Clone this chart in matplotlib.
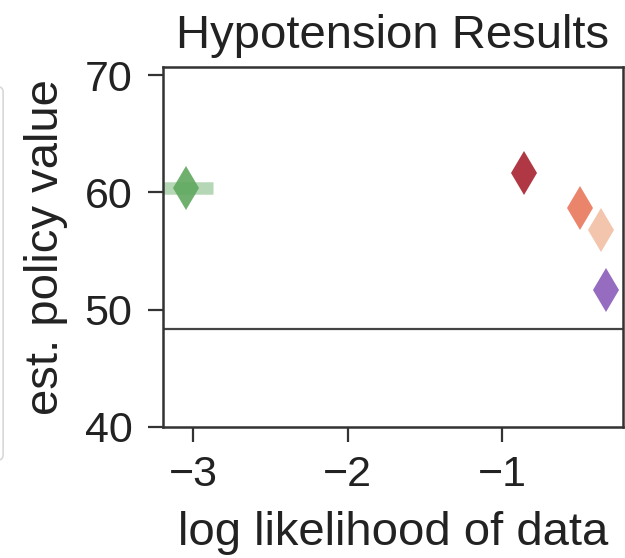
import matplotlib
matplotlib.use("Agg")
import matplotlib.pyplot as plt
from matplotlib.patches import FancyBboxPatch

plt.rcParams['font.family'] = ['Liberation Sans', 'DejaVu Sans']

# data
names = ["green", "darkred", "orange", "peach", "purple"]
loglik = [-3.05, -0.86, -0.50, -0.36, -0.33]
values = [60.35, 61.7, 58.7, 56.8, 51.7]
xerr = [0.18, 0.0, 0.0, 0.0, 0.0]
colors = ["#5fa85f", "#a8222f", "#e8785c", "#f2bfa3", "#8a5cb8"]
baseline = 48.35
xticks = [-3, -2, -1]
yticks = [40, 50, 60, 70]

fig = plt.figure(figsize=(6.25, 5.58), dpi=100)
ax = fig.add_axes([0.2608, 0.2348, 0.9968 - 0.2608, 0.880 - 0.2348])

for x, y, e, c in zip(loglik, values, xerr, colors):
    if e > 0:
        ax.errorbar(x, y, xerr=e, fmt='none', ecolor=c, elinewidth=9,
                    alpha=0.45, capsize=0, zorder=2)
    ax.plot(x, y, marker='d', markersize=22, color=c, alpha=0.9,
            markeredgewidth=0, linestyle='none', zorder=3)

ax.axhline(baseline, color='#444444', lw=1.6, zorder=1)

ax.set_xlim(-3.196, -0.219)
ax.set_ylim(40, 70.7)
ax.set_xticks(xticks)
ax.set_yticks(yticks)
ax.set_xticklabels([f"\u2212{abs(t)}" for t in xticks])
ax.tick_params(direction='out', length=11, width=1.6, labelsize=31,
               color='#333333', labelcolor='#222222')
ax.tick_params(axis='y', pad=11)
ax.tick_params(axis='x', pad=9)
for s in ax.spines.values():
    s.set_linewidth(1.8)
    s.set_color('#333333')

ax.set_title("Hypotension Results", fontsize=34, color='#222222', pad=14)
ax.set_xlabel("log likelihood of data", fontsize=34, color='#222222', labelpad=12)
ax.set_ylabel("est. policy value", fontsize=34, color='#222222', labelpad=12)

# partial legend box of neighbouring panel
box = FancyBboxPatch((-0.05, 0.175), 0.055, 0.67, boxstyle="round,pad=0,rounding_size=0.01",
                     transform=fig.transFigure, facecolor='none', edgecolor='#d8d8d8', lw=1.2)
fig.patches.append(box)

fig.savefig("out.png", dpi=100)
